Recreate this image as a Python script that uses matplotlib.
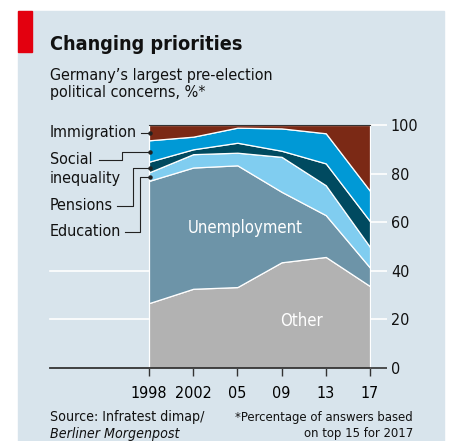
import matplotlib
matplotlib.use("Agg")
import matplotlib.pyplot as plt
import numpy as np
from matplotlib.patches import Rectangle

plt.rcParams["font.family"] = ["DejaVu Sans"]
plt.rcParams["font.stretch"] = "condensed"

# data (% of answers, cumulative bands from the bottom)
years = ["1998", "2002", "05", "09", "13", "17"]
other = [26.7, 32.6, 33.3, 43.5, 45.7, 33.7]
unemployment = [50.3, 49.9, 50.1, 29.0, 17.2, 7.6]
education = [3.5, 5.5, 5.2, 14.4, 12.3, 8.5]
pensions = [4.4, 2.0, 4.1, 2.5, 9.0, 10.6]
social_inequality = [8.8, 5.2, 6.2, 9.2, 12.4, 12.5]
immigration = [6.3, 4.8, 1.1, 1.4, 3.4, 27.1]

band_names = ["Other", "Unemployment", "Education", "Pensions",
              "Social inequality", "Immigration"]
band_colors = ["#b2b2b2", "#6d94a8", "#80cdf0", "#004a60", "#0099d6", "#7b2915"]

BG = "#d8e4ec"

fig = plt.figure(figsize=(4.49, 4.41), dpi=100)
fig.patch.set_facecolor("white")
fig.add_artist(Rectangle((18 / 449, 0), 426 / 449, 1 - 11 / 441,
                         transform=fig.transFigure, color=BG, zorder=-5))
fig.add_artist(Rectangle((18 / 449, 1 - 52 / 441), 14 / 449, 41 / 441,
                         transform=fig.transFigure, color="#e3000f", zorder=-4))

ax = fig.add_axes([50 / 449, 1 - 368 / 441, 320 / 449, 243 / 441])
ax.set_facecolor("none")
x = np.arange(len(years))

# gridlines: 20 and 40 run across, the rest hide behind the areas
for g in [20, 40]:
    ax.axhline(g, color="white", lw=1.2, zorder=0)

ax.stackplot(x, other, unemployment, education, pensions, social_inequality,
             immigration, colors=band_colors, edgecolor="white", lw=0.9,
             zorder=2)
ax.plot([0, 5], [100, 100], color="#333333", lw=0.8, zorder=3)

ax.set_xlim(-2.24, 5)
ax.set_ylim(0, 100)
for s in ["top", "left", "right"]:
    ax.spines[s].set_visible(False)
ax.spines["bottom"].set_color("#333333")
ax.spines["bottom"].set_linewidth(1.3)
ax.spines["bottom"].set_zorder(4)

ax.set_xticks(x)
ax.set_xticklabels(years, fontsize=11.5)
ax.tick_params(axis="x", length=6, width=1, color="#333333", pad=7)

ax.yaxis.tick_right()
ax.set_yticks([0, 20, 40, 60, 80, 100])
ax.tick_params(axis="y", length=12, width=1.2, colors="white",
               labelcolor="#111111", labelsize=11.5, pad=3)
for tl in ax.yaxis.get_majorticklines():
    tl.set_zorder(5)
ax.get_yticklines()[1].set_markeredgecolor("#333333")

# in-chart labels
ax.text(2.17, 57.5, "Unemployment", color="white", fontsize=12,
        ha="center", va="center", zorder=6)
ax.text(3.44, 19.5, "Other", color="white", fontsize=12,
        ha="center", va="center", zorder=6)

# left labels with leader lines (x in index units, y in %)
lab_kw = dict(fontsize=11.5, color="#111111", va="center", ha="left")
ax.text(-2.24, 96.8, "Immigration", **lab_kw)
ax.plot([-0.18, 0.02], [96.8, 96.8], color="#222222", lw=0.8, zorder=6)
ax.text(-2.24, 85.6, "Social", **lab_kw)
ax.text(-2.24, 78.0, "inequality", **lab_kw)
ax.plot([-1.14, -0.62, -0.62, 0.02], [85.6, 85.6, 89.0, 89.0],
        color="#222222", lw=0.8, zorder=6)
ax.text(-2.24, 66.8, "Pensions", **lab_kw)
ax.plot([-0.72, -0.36, -0.36, 0.02], [66.8, 66.8, 82.5, 82.5],
        color="#222222", lw=0.8, zorder=6)
ax.text(-2.24, 56.0, "Education", **lab_kw)
ax.plot([-0.54, -0.2, -0.2, 0.02], [56.0, 56.0, 78.7, 78.7],
        color="#222222", lw=0.8, zorder=6)
for yv in [96.8, 89.0, 82.5, 78.7]:
    ax.plot([0.02], [yv], "o", ms=2.2, color="#222222", zorder=7)

for a in ax.lines + ax.texts:
    a.set_clip_on(False)

# titles
fig.text(50 / 449, 1 - 45 / 441, "Changing priorities", fontsize=14.2,
         fontweight="bold", va="center", ha="left", color="#111111")
fig.text(50 / 449, 1 - 84 / 441,
         "Germany\u2019s largest pre-election\npolitical concerns, %*",
         fontsize=11.5, va="center", ha="left", color="#111111",
         linespacing=1.15)

# footer
foot = dict(va="center", color="#111111")
fig.text(50 / 449, 1 - 417 / 441, "Source: Infratest dimap/", fontsize=10.2,
         ha="left", **foot)
fig.text(50 / 449, 1 - 434 / 441, "Berliner Morgenpost", fontsize=10.2,
         style="italic", ha="left", **foot)
fig.text(413 / 449, 1 - 417 / 441, "*Percentage of answers based",
         fontsize=9.4, ha="right", **foot)
fig.text(413 / 449, 1 - 434 / 441, "on top 15 for 2017",
         fontsize=9.4, ha="right", **foot)

fig.savefig("out.png", dpi=100, facecolor=fig.get_facecolor())
